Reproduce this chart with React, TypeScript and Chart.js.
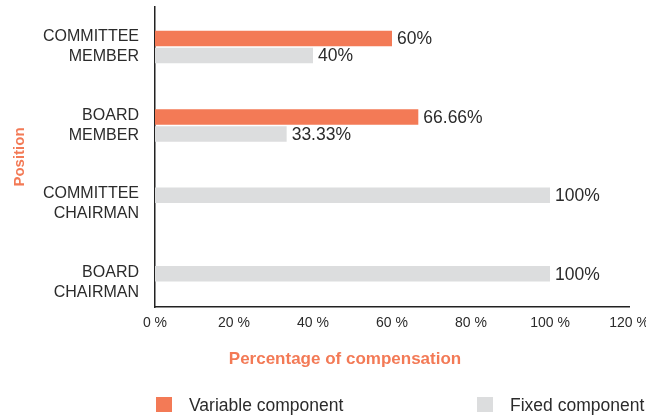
import React, { useEffect, useRef } from 'react';
import { Chart, registerables } from 'chart.js';

Chart.register(...registerables);

// ---- data ----
const categories: string[][] = [
  ['COMMITTEE', 'MEMBER'],
  ['BOARD', 'MEMBER'],
  ['COMMITTEE', 'CHAIRMAN'],
  ['BOARD', 'CHAIRMAN'],
];
const variableComponent: (number | null)[] = [60, 66.66, null, null];
const fixedComponent: number[] = [40, 33.33, 100, 100];
const seriesNames: string[] = ['Variable component', 'Fixed component'];
const xTickValues: number[] = [0, 20, 40, 60, 80, 100, 120];
const xTitle = 'Percentage of compensation';
const yTitle = 'Position';

// ---- styles ----
const ORANGE = '#F37A56';
const GRAY = '#DCDDDE';
const TEXT = '#2b2b2b';
const AXIS = '#222222';
const FONT = '"Liberation Sans", Arial, sans-serif';
const seriesColors = [ORANGE, GRAY];

type Pt = { x: number; y: number };
const toPoints = (vals: (number | null)[], keep: (i: number) => boolean): Pt[] =>
  vals
    .map((v, i) => (v != null && keep(i) ? { x: v, y: i } : null))
    .filter((p): p is Pt => p !== null);

const valueLabels = {
  id: 'valueLabels',
  afterDatasetsDraw(chart: any) {
    const ctx = chart.ctx;
    ctx.save();
    ctx.font = `17.5px ${FONT}`;
    ctx.fillStyle = TEXT;
    ctx.textAlign = 'left';
    ctx.textBaseline = 'middle';
    chart.data.datasets.forEach((ds: any, di: number) => {
      const meta = chart.getDatasetMeta(di);
      meta.data.forEach((el: any, j: number) => {
        const p = ds.data[j];
        if (!p || p.x == null) return;
        ctx.fillText(`${p.x}%`, el.x + 5, el.y + 1);
      });
    });
    ctx.restore();
  },
};

const bottomTexts = {
  id: 'bottomTexts',
  afterDraw(chart: any) {
    const ctx = chart.ctx;
    const { left, bottom } = chart.chartArea;
    ctx.save();
    // x axis title
    ctx.font = `bold 17px ${FONT}`;
    ctx.fillStyle = ORANGE;
    ctx.textAlign = 'center';
    ctx.textBaseline = 'alphabetic';
    ctx.fillText(xTitle, left + 190, bottom + 57);
    // legend
    const offsets = [1, 322];
    ctx.font = `17.5px ${FONT}`;
    ctx.textAlign = 'left';
    seriesNames.forEach((name, i) => {
      const bx = left + offsets[i];
      ctx.fillStyle = seriesColors[i];
      ctx.fillRect(bx, bottom + 90, 16, 15);
      ctx.fillStyle = TEXT;
      ctx.fillText(name, bx + 33, bottom + 104);
    });
    ctx.restore();
  },
};

export default function App() {
  const ref = useRef<HTMLCanvasElement | null>(null);

  useEffect(() => {
    if (!ref.current) return;
    const chart = new Chart(ref.current, {
      type: 'bar',
      data: {
        datasets: [
          {
            label: seriesNames[0],
            data: toPoints(variableComponent, () => true),
            backgroundColor: ORANGE,
            stack: 'first',
          },
          {
            label: seriesNames[1],
            data: toPoints(fixedComponent, (i) => variableComponent[i] != null),
            backgroundColor: GRAY,
            stack: 'second',
          },
          {
            label: seriesNames[1],
            data: toPoints(fixedComponent, (i) => variableComponent[i] == null),
            backgroundColor: GRAY,
            stack: 'first',
          },
        ] as any,
      },
      options: {
        indexAxis: 'y',
        responsive: false,
        animation: false,
        layout: { padding: { top: 7, right: 17, bottom: 0, left: 0 } },
        categoryPercentage: 0.434,
        barPercentage: 0.91,
        plugins: {
          legend: { display: false },
          tooltip: { enabled: false },
        },
        scales: {
          x: {
            type: 'linear',
            stacked: false,
            offset: false,
            min: xTickValues[0],
            max: xTickValues[xTickValues.length - 1],
            afterBuildTicks: (s: any) => {
              s.ticks = xTickValues.map((v) => ({ value: v }));
            },
            afterFit: (s: any) => {
              s.height = 109;
              s.paddingLeft = 0;
              s.paddingRight = 0;
            },
            grid: { display: false, drawTicks: false, offset: false },
            border: { display: true, color: AXIS, width: 1.5 },
            ticks: {
              padding: 8,
              color: TEXT,
              font: { family: FONT, size: 14 },
              callback: (v: any) => `${v} %`,
            },
          },
          y: {
            type: 'linear',
            reverse: true,
            offset: false,
            bounds: 'data',
            min: -0.51,
            max: 3.316,
            afterBuildTicks: (s: any) => {
              s.ticks = categories.map((_, i) => ({ value: i }));
            },
            afterFit: (s: any) => {
              s.width = 155;
              s.paddingTop = 0;
              s.paddingBottom = 0;
            },
            grid: { display: false, drawTicks: false, offset: false },
            border: { display: true, color: AXIS, width: 1.5 },
            ticks: {
              autoSkip: false,
              padding: 16,
              color: TEXT,
              font: { family: FONT, size: 16, lineHeight: 1.25 },
              callback: (v: any) => categories[v as number] ?? '',
            },
            title: {
              display: true,
              text: yTitle,
              color: ORANGE,
              font: { family: FONT, size: 15, weight: 'bold' },
              padding: { top: 11, bottom: 0 },
            },
          },
        },
      } as any,
      plugins: [valueLabels, bottomTexts],
    });
    return () => chart.destroy();
  }, []);

  return (
    <div style={{ position: 'absolute', left: 0, top: 0, width: 646, height: 416 }}>
      <canvas ref={ref} width={646} height={416} style={{ display: 'block' }} />
    </div>
  );
}
